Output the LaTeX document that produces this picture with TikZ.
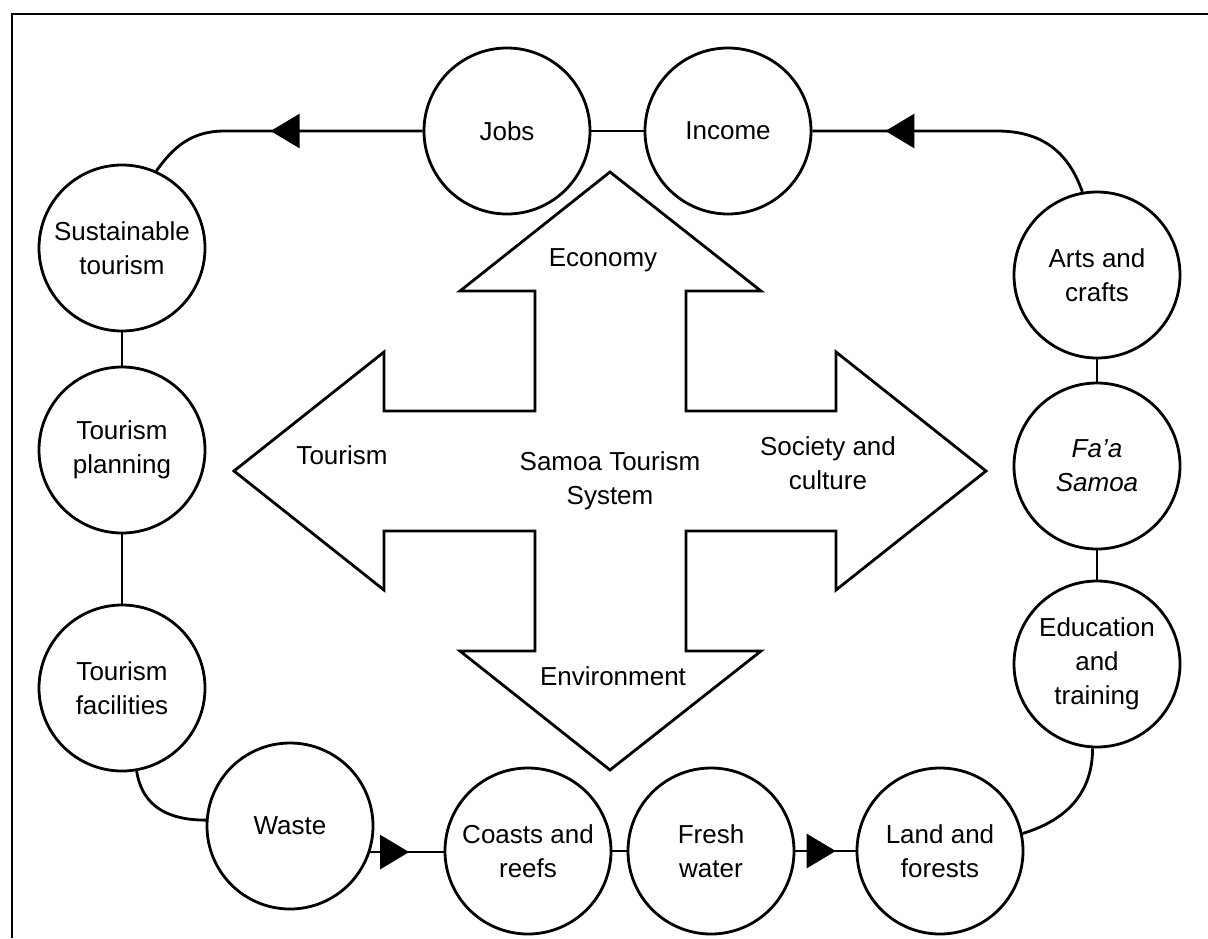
\documentclass[tikz,border=0pt]{standalone}
\usepackage{fontspec}
\setmainfont{Liberation Sans}
\usetikzlibrary{arrows.meta,decorations.markings}
\newcommand\circfont{\fontsize{26}{34}\selectfont}
\begin{document}
\begin{tikzpicture}[x=1pt,y=-1pt,
  line width=2.8pt, line join=miter,
  circ/.style={circle,draw,minimum size=166pt,inner sep=0pt,align=center,font=\circfont},
  lbl/.style={align=center,font=\circfont},
  flowmark/.style={postaction={decorate},
    decoration={markings,mark=at position #1 with {\arrow{Triangle[length=29pt,width=34pt]}}}},
]
\useasboundingbox (0,0) rectangle (1208,938);

% frame
\draw[line width=2.5pt] (12,938) -- (12,14) -- (1208,14);

% central four-way arrow
\draw (610,172) -- (761,291) -- (686,291) -- (686,411) -- (836,411) -- (836,352)
  -- (986,471) -- (836,590) -- (836,531) -- (686,531) -- (686,651) -- (761,651)
  -- (610,770) -- (460,651) -- (535,651) -- (535,531) -- (384,531) -- (384,590)
  -- (234,471) -- (384,352) -- (384,411) -- (535,411) -- (535,291) -- (460,291) -- cycle;

\node[lbl] (econ) at (603,260) {Economy};
\node[lbl] (tour) at (342,455) {Tourism};
\node[lbl] (sts) at (610,481) {Samoa Tourism\\System};
\node[lbl] (soc) at (828,463) {Society and\\culture};
\node[lbl] (env) at (613,676) {Environment};

% circles of the loop
\node[circ] (jobs) at (507,131) {Jobs};
\node[circ] (income) at (728,131) {Income};
\node[circ] (sust) at (122,248) {Sustainable\\tourism};
\node[circ] (plan) at (122,450) {Tourism\\planning};
\node[circ] (fac) at (122,688) {Tourism\\facilities};
\node[circ] (waste) at (290,826) {Waste};
\node[circ] (coasts) at (528,851) {Coasts and\\reefs};
\node[circ] (fresh) at (711,851) {Fresh\\water};
\node[circ] (land) at (940,851) {Land and\\forests};
\node[circ] (edu) at (1097,664) {Education\\and\\training};
\node[circ] (faa) at (1097,466) {\textit{Fa’a}\\\textit{Samoa}};
\node[circ] (arts) at (1097,275) {Arts and\\crafts};

% plain links
\draw (jobs) -- (income);
\draw (sust) -- (plan);
\draw (plan) -- (fac);
\draw (arts) -- (faa);
\draw (faa) -- (edu);
\draw (coasts) -- (fresh);
\draw (fac.-80) .. controls +(6,38) and +(-34,0) .. (waste.176);
\draw (edu.-93) .. controls +(0,48) and +(40,-12) .. (land.12);

% directed links
\draw[flowmark=0.53] (waste.-18) -- (waste.-18 -| coasts.west);
\draw[flowmark=0.67] (fresh) -- (land);
\draw[flowmark=152pt] (jobs.west) -- ++(-198,0) .. controls +(-35,0) and +(16,-22) .. (sust.66);
\draw[flowmark=-73pt] (arts.100) .. controls +(-14,-40) and +(45,0) .. (997,131) -- (income.east);
\end{tikzpicture}
\end{document}
